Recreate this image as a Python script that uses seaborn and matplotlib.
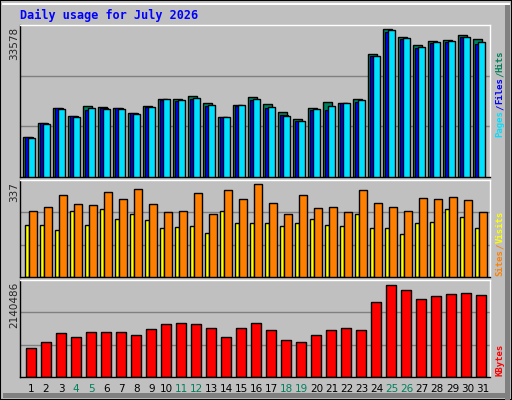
import matplotlib
matplotlib.use('Agg')
import matplotlib.pyplot as plt
import seaborn as sns
import pandas as pd
import numpy as np
from matplotlib.patches import Rectangle

days = list(range(1, 32))
weekend_days = [4, 5, 11, 12, 18, 19, 25, 26]

hits = [9137, 12335, 15761, 13934, 16218, 15990, 15761, 14619, 16218, 17589, 17589,
        18274, 16903, 13706, 16447, 18046, 16675, 14848, 13249, 15761, 17132, 16903,
        17589, 27868, 33578, 31751, 29923, 30837, 31066, 32208, 31294]
files = [9000, 12200, 15600, 13800, 15300, 15600, 15600, 14500, 15900, 17450, 17300,
         17600, 16000, 13650, 16100, 17500, 15600, 14100, 12700, 15200, 15300, 16750,
         17000, 27500, 33000, 31300, 29300, 30400, 30700, 31700, 30200]
pages = [8908, 12106, 15533, 13705, 15761, 15533, 15533, 14391, 15990, 17589, 17360,
         17817, 16446, 13705, 16447, 17589, 15990, 13934, 12791, 15533, 16218, 16903,
         17360, 27410, 33350, 31522, 29466, 30608, 30837, 31751, 30608]
visits = [241, 252, 297, 263, 260, 308, 282, 319, 263, 234, 241, 304, 230, 315, 282, 337,
          267, 227, 297, 249, 252, 234, 315, 267, 252, 241, 286, 282, 289, 278, 234]
sites = [190, 190, 172, 238, 190, 245, 212, 227, 205, 179, 183, 186, 161, 241, 197, 194,
         197, 186, 197, 212, 190, 186, 227, 179, 179, 157, 197, 201, 245, 219, 179]
kbytes = [664020, 804636, 1015560, 921816, 1038996, 1038996, 1038996, 968688, 1109304,
          1226484, 1249920, 1226484, 1132740, 921816, 1132740, 1249920, 1085868, 851508,
          804636, 968688, 1085868, 1132740, 1085868, 1742076, 2140486, 2023308, 1812384,
          1882692, 1929564, 1953000, 1906128]

BG = '#C0C0C0'
sns.set_theme(style='white')
plt.rcParams['font.family'] = ['DejaVu Sans']

W, H = 512, 400
fig = plt.figure(figsize=(W / 100, H / 100), dpi=100, facecolor=BG)

# outer frame with 3D bevel (kept below the axes)
frame = [
    Rectangle((0, 0), 1, 1, fc=BG, ec='black', lw=1.5),
    Rectangle((505 / W, 0), 5 / W, 395 / H, fc='#808080', ec='none'),
    Rectangle((3 / W, 2 / H), 507 / W, 5 / H, fc='#808080', ec='none'),
    Rectangle((2 / W, 395 / H), 508 / W, 2 / H, fc='white', ec='none'),
]
for p in frame:
    p.set_transform(fig.transFigure)
    p.set_zorder(-5)
    fig.patches.append(p)


def panel(top, bottom):
    ax = fig.add_axes([20 / W, 1 - bottom / H, 470 / W, (bottom - top) / H])
    ax.set_facecolor(BG)
    for s in ['left', 'bottom']:
        ax.spines[s].set_color('black')
    for s in ['top', 'right']:
        ax.spines[s].set_color('white')
    for s in ax.spines.values():
        s.set_linewidth(1)
    ax.set_xlim(0.27, 31.6)
    ax.set_xticks([])
    ax.set_yticks([])
    return ax


def finish(ax, vmax, frac):
    top = vmax / frac
    ax.set_ylim(0, top)
    for g in (top / 3, 2 * top / 3):
        ax.axhline(g, color='#808080', lw=1, zorder=0)


x = np.array(days, dtype=float)

# top panel: hits / files / pages
ax1 = panel(25, 177)
ax1.bar(x - 0.22, hits, width=0.6, color='#00805C', edgecolor='black', lw=1, zorder=2)
ax1.bar(x - 0.12, files, width=0.55, color='#0000FF', edgecolor='black', lw=0.8, zorder=3)
ax1.bar(x + 0.03, pages, width=0.5, color='#00E0FF', edgecolor='black', lw=1, zorder=4)
finish(ax1, max(hits), 147 / 151)

# middle panel: sites / visits
ax2 = panel(180, 277)
ax2.bar(x - 0.24, sites, width=0.28, color='#FFFF00', edgecolor='black', lw=1, zorder=2)
ax2.bar(x + 0.14, visits, width=0.5, color='#FF8000', edgecolor='black', lw=1, zorder=3)
finish(ax2, max(visits), 92 / 96)

# bottom panel: kbytes
ax3 = panel(280, 377)
df = pd.DataFrame({'day': days, 'kbytes': kbytes})
sns.barplot(data=df, x='day', y='kbytes', ax=ax3, color='#FF0000', saturation=1,
            edgecolor='black', linewidth=1, width=0.72, zorder=2, native_scale=True)
ax3.set_xlim(0.27, 31.6)
ax3.set_xlabel('')
ax3.set_ylabel('')
ax3.set_xticks([])
ax3.set_yticks([])
finish(ax3, max(kbytes), 91 / 96)

# day labels
for d in days:
    fig.text((31 + (d - 1) * 15.05) / W, 1 - 389 / H, str(d), ha='center', va='center',
             fontsize=7.5, color='#00805C' if d in weekend_days else 'black')

fig.text(20 / W, 1 - 15 / H, 'Daily usage for July 2026', color='#0000FF', fontsize=8.5,
         family='DejaVu Sans Mono', weight='bold', va='center')

# max labels on the left
for ytop, val in [(27, max(hits)), (182, max(visits)), (282, max(kbytes))]:
    fig.text(14 / W, 1 - ytop / H, str(val), rotation=90, ha='center', va='top', fontsize=7.5)


# right-hand legends, built from bottom up
def side_label(ybottom, pieces):
    y = ybottom
    step = 5.45
    for txt, col in pieces:
        fig.text(500 / W, 1 - y / H, txt, rotation=90, ha='center', va='bottom', color=col,
                 fontsize=6.5, family='DejaVu Sans Mono', weight='bold')
        y -= step * len(txt)


side_label(137, [('Pages', '#00E0FF'), ('/', '#0000FF'), ('Files', '#0000FF'),
                 ('/', '#00805C'), ('Hits', '#00805C')])
side_label(276, [('Sites', '#FF8000'), ('/', '#FF8000'), ('Visits', '#FFFF00')])
side_label(376, [('KBytes', '#FF0000')])

fig.savefig('out.png', dpi=100, facecolor=BG)
